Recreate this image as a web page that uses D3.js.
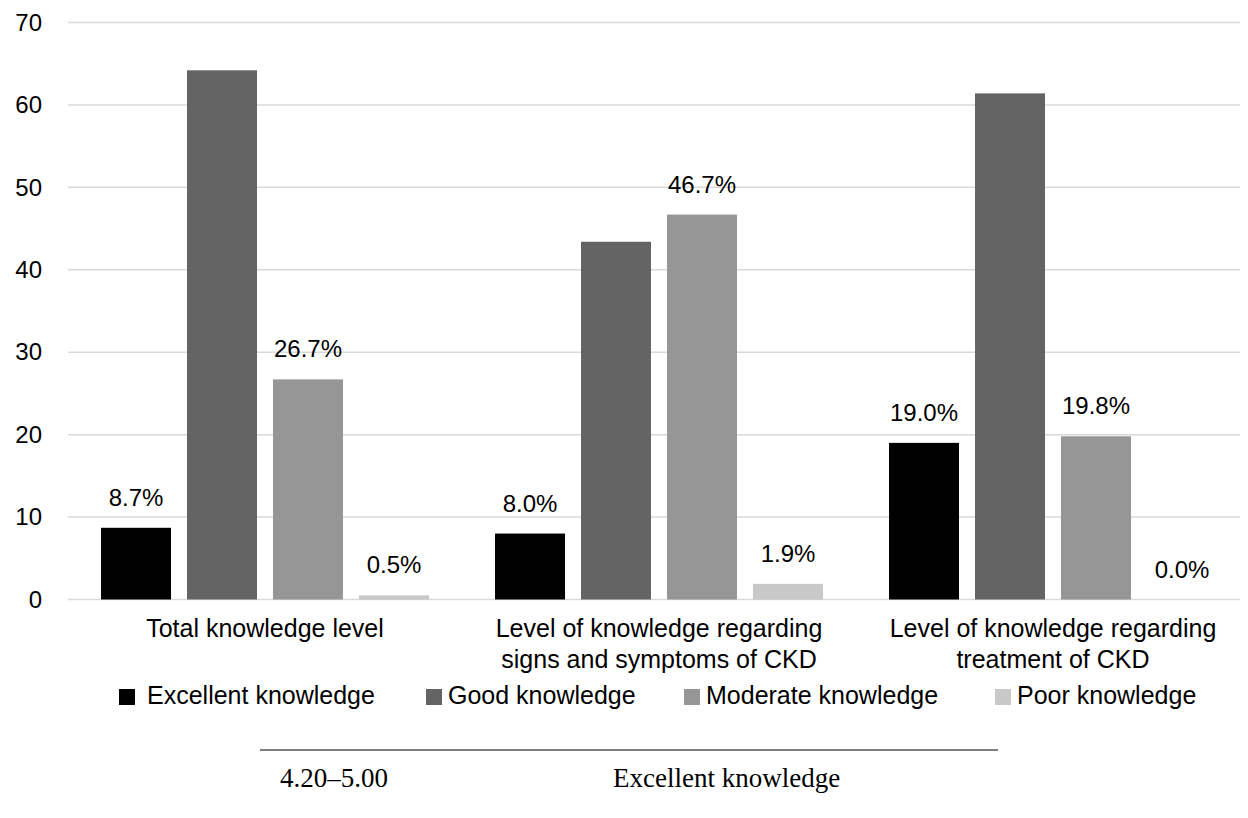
<!DOCTYPE html>
<html>
<head>
<meta charset="utf-8">
<script src="https://cdn.jsdelivr.net/npm/d3@7"></script>
<style>
  body { margin: 0; background: #fff; }
  svg { display: block; }
</style>
</head>
<body>
<div class="chart"></div>
<script>
// chart data
const categories = [
  ["Total knowledge level"],
  ["Level of knowledge regarding", "signs and symptoms of CKD"],
  ["Level of knowledge regarding", "treatment of CKD"]
]
const seriesNames = ["Excellent knowledge", "Good knowledge", "Moderate knowledge", "Poor knowledge"]
const excellent = [8.7, 8.0, 19.0]
const good = [64.2, 43.4, 61.4]
const moderate = [26.7, 46.7, 19.8]
const poor = [0.5, 1.9, 0.0]
// which series get a % label
const showLabel = [true, false, true, true]
const yTicks = [0, 10, 20, 30, 40, 50, 60, 70]

const tableRange = "4.20–5.00"
const tableLevel = "Excellent knowledge"

const colors = ["#000000", "#646464", "#969696", "#c8c8c8"]
const allSeries = [excellent, good, moderate, poor]

const w = 1248
const h = 818
const left = 68
const right = 1250

const svg = d3.select(".chart")
  .append("svg")
  .attr("width", w)
  .attr("height", h)
  .style("font-family", "'Liberation Sans', Arial, sans-serif")

const catKeys = categories.map((c, i) => i)

const x0 = d3.scaleBand()
  .domain(catKeys)
  .range([left, right])

const x1 = d3.scaleBand()
  .domain(d3.range(seriesNames.length))
  .range([0, x0.bandwidth()])
  .paddingInner(0.186)
  .paddingOuter(0.384)

const y = d3.scaleLinear()
  .domain([0, 70])
  .range([599.5, 22.5])

// gridlines
svg.append("g")
  .selectAll("line")
  .data(yTicks)
  .enter()
  .append("line")
    .attr("x1", left)
    .attr("x2", 1240)
    .attr("y1", d => y(d))
    .attr("y2", d => y(d))
    .attr("stroke", "#d9d9d9")
    .attr("stroke-width", 1.5)

// y axis labels
const yAxis = d3.axisLeft(y)
  .tickValues(yTicks)
  .tickSize(0)
  .tickPadding(0)
svg.append("g")
  .attr("transform", "translate(42,0)")
  .call(yAxis)
  .call(g => g.select(".domain").remove())
  .selectAll("text")
    .attr("font-size", 24)
    .attr("font-family", "'Liberation Sans', Arial, sans-serif")
    .attr("fill", "#000")

// bars
allSeries.forEach((vals, s) => {
  const g = svg.append("g")
  g.selectAll("rect")
    .data(vals)
    .enter()
    .append("rect")
      .attr("x", (d, i) => x0(i) + x1(s))
      .attr("y", d => y(d))
      .attr("width", x1.bandwidth())
      .attr("height", d => y(0) - y(d))
      .attr("fill", colors[s])

  if (showLabel[s]) {
    g.selectAll("text")
      .data(vals)
      .enter()
      .append("text")
        .attr("x", (d, i) => x0(i) + x1(s) + x1.bandwidth() / 2)
        .attr("y", d => y(d) - 22)
        .attr("text-anchor", "middle")
        .attr("font-size", 24)
        .attr("fill", "#000")
        .text(d => d.toFixed(1) + "%")
  }
})

// category labels
const catG = svg.append("g")
categories.forEach((lines, i) => {
  const t = catG.append("text")
    .attr("x", x0(i) + x0.bandwidth() / 2)
    .attr("y", 637)
    .attr("text-anchor", "middle")
    .attr("font-size", 25)
    .attr("fill", "#000")
  lines.forEach((ln, j) => {
    t.append("tspan")
      .attr("x", x0(i) + x0.bandwidth() / 2)
      .attr("dy", j === 0 ? 0 : 31)
      .text(ln)
  })
})

// legend
const legendX = [119, 426, 684, 995]
const legend = svg.append("g")
seriesNames.forEach((name, s) => {
  legend.append("rect")
    .attr("x", legendX[s])
    .attr("y", 689)
    .attr("width", 16)
    .attr("height", 16)
    .attr("fill", colors[s])
  legend.append("text")
    .attr("x", legendX[s] + (s === 0 ? 28 : 22))
    .attr("y", 704)
    .attr("font-size", 25)
    .attr("fill", "#000")
    .text(name)
})

// table fragment below the figure
svg.append("line")
  .attr("x1", 260)
  .attr("x2", 998)
  .attr("y1", 750)
  .attr("y2", 750)
  .attr("stroke", "#808080")
  .attr("stroke-width", 2)

svg.append("text")
  .attr("x", 280)
  .attr("y", 787)
  .attr("font-family", "'Liberation Serif', 'Times New Roman', serif")
  .attr("font-size", 27)
  .attr("fill", "#000")
  .text(tableRange)

svg.append("text")
  .attr("x", 613)
  .attr("y", 787)
  .attr("font-family", "'Liberation Serif', 'Times New Roman', serif")
  .attr("font-size", 27)
  .attr("fill", "#000")
  .text(tableLevel)
</script>
</body>
</html>
